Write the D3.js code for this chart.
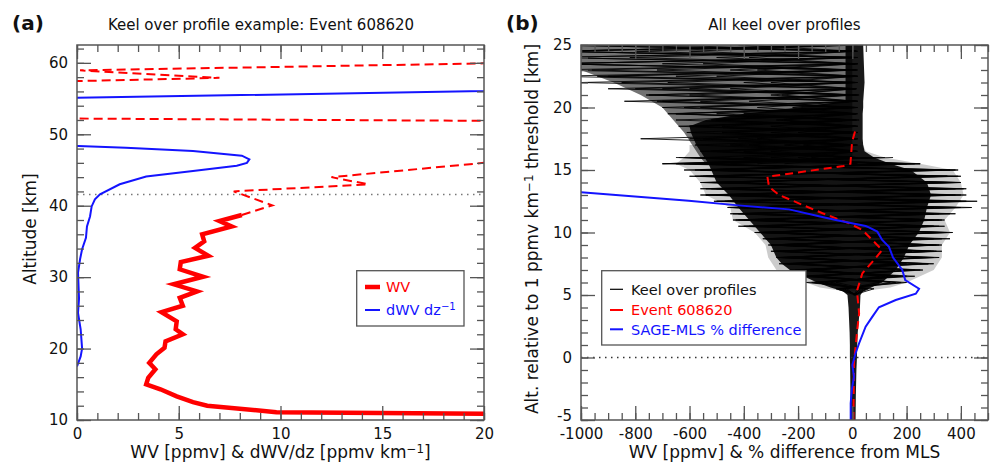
<!DOCTYPE html>
<html><head><meta charset="utf-8">
<script src="https://cdn.jsdelivr.net/npm/d3@7"></script>
<style>body{margin:0;background:#fff;} svg{display:block;font-family:"DejaVu Sans",sans-serif;}</style>
</head><body><svg id="c" width="992" height="465"></svg>
<script>
// ---------------- DATA ----------------
// Panel (a): Keel over profile example, Event 608620  [value, altitude km]
const aXTicks = [0, 5, 10, 15, 20];
const aYTicks = [10, 20, 30, 40, 50, 60];
const aThreshold = 41.57;
const wvSolid = [[21,10.85],[9.8,11.1],[6.4,12.0],[5.7,12.5],[4.9,13.3],[4.1,14.3],[3.4,15.0],[3.5,15.9],[3.85,17.1],[3.55,18.0],[3.9,19.2],[4.3,20.1],[4.35,21.0],[5.2,22.0],[4.85,22.7],[4.9,23.8],[4.15,25.1],[5.2,26.0],[5.05,27.1],[5.9,28.0],[4.75,29.0],[6.2,30.05],[5.05,31.1],[5.1,32.1],[6.45,33.0],[5.8,34.1],[6.25,35.0],[6.15,36.0],[7.6,37.1],[7.0,37.85],[8.1,38.7]];
const wvDashed = [[8.1,38.7],[9.6,40.05],[7.7,42.0],[14.3,43.0],[12.5,44.0],[23.75,47.0],[200,49],[0.1,52.2],[-50,53],[-20,57],[0.1,57.45],[7.0,57.9],[0.15,58.95],[60,61.9]];
const dwvdz = [[0.0,17.5],[0.18,18.9],[0.25,20.0],[0.18,22.7],[0.05,25.0],[0.1,27.0],[0.05,30.6],[0.15,32.5],[0.25,33.9],[0.44,35.5],[0.49,37.1],[0.64,38.5],[0.72,39.9],[0.88,40.9],[1.13,41.6],[2.1,43.0],[3.4,44.1],[5.7,44.85],[7.85,45.6],[8.35,46.0],[8.47,46.5],[8.1,47.0],[5.7,47.65],[2.4,48.1],[0.06,48.35],[-20,49],[-20,54.9],[0.0,55.1],[40,57]];

// Panel (b): All keel over profiles  [value, relative altitude km]
const bXTicks = [-1000, -800, -600, -400, -200, 0, 200, 400];
const bYTicks = [-5, 0, 5, 10, 15, 20, 25];
const eventRel = [[4,-5],[6,-0.46],[18,2.2],[25,3.54],[18,5.14],[18,5.4],[37,6.74],[80,7.8],[110,8.6],[37,10.2],[-12,10.74],[-110,11.54],[-270,13.0],[-307,13.66],[-313,14.46],[-32,15.32],[-7,15.5],[-1,17.24],[11,18.17]];
const sageMls = [[-6,-5],[-6,-3.66],[-2,-2.6],[6,-1.54],[0,-0.6],[12,0.34],[25,1.14],[49,2.46],[74,3.27],[98,4.02],[160,4.6],[234,5.1],[246,5.5],[195,6.2],[184,7.0],[150,8.0],[135,8.85],[110,9.4],[92,10.07],[61,10.41],[49,10.52],[-61,11.0],[-123,11.3],[-233,11.85],[-420,12.17],[-603,12.54],[-1000,13.22],[-1100,13.4]];
// dense core of the keel-over profiles: [alt, left edge, right edge]
const coreEnv = [[-5,-7,12],[-3,-7,13],[-1,-8,15],[0,-9,17],[1,-9,18],[2,-10,20],[3,-12,24],[4,-14,28],[5,-18,30],[5.3,-35,40],[5.6,-80,70],[6,-130,110],[6.5,-180,135],[7,-230,160],[7.5,-260,175],[8,-280,190],[9,-300,210],[10,-340,245],[11,-380,265],[12,-420,275],[13,-455,290],[14,-500,275],[15,-520,215],[15.5,-530,140],[16,-545,80],[16.5,-560,45],[17,-575,40],[17.5,-585,38],[18,-595,38],[18.5,-600,38],[19,-540,38],[19.5,-400,38],[20,-200,40],[20.5,-25,40],[22,-25,45],[25,-25,40]];
// fringe of zigzag spikes around the core: [alt, left edge, right edge]
const haloEnv = [[5.3,-30,40],[5.6,-120,140],[6,-170,200],[6.5,-210,250],[7,-280,300],[8,-310,330],[9,-320,330],[10,-360,360],[11,-440,340],[12,-450,380],[13,-540,410],[14,-560,400],[15,-600,370],[15.5,-650,250],[16,-620,120],[16.5,-600,50],[17,-600,40]];
// upper wedge of the keel-over profiles: [alt, left edge]
const upperWedge = [[15.5,-540],[16,-560],[17,-590],[18,-620],[19,-660],[20,-700],[21,-780],[22,-880],[23,-1000],[25,-1000]];
// individual profiles, middle section
const edgeAlts = [5,5.5,6,6.5,7,7.5,8,8.5,9,9.5,10,10.5,11,11.5,12,12.5,13,13.5,14,14.5,15,15.5,16];
const edgeProfiles = [
  [10,40,-120,180,-150,240,-220,290,-260,260,-300,320,-380,300,-420,350,-470,330,-520,300,-560,200,-600],
  [15,-50,160,-170,220,-240,280,-280,300,-300,350,-330,330,-400,380,-440,420,-500,400,-540,380,-600,150],
  [5,20,-80,120,-130,200,-200,260,-230,280,-260,300,-350,320,-380,460,-420,350,-450,300,-520,250,-580],
  [8,60,-150,200,-200,300,-240,330,-280,330,-340,260,-440,250,-450,280,-560,300,-480,280,-500,120,-640],
  [12,-30,100,-160,230,-270,250,-300,280,-310,370,-380,340,-420,400,-470,350,-520,380,-560,390,-700,80],
  [6,30,-100,150,-190,180,-260,220,-300,250,-320,280,-370,300,-400,330,-430,420,-500,350,-540,250,-600],
  [10,-20,140,-120,200,-200,260,-250,310,-280,300,-350,300,-390,340,-460,380,-480,400,-550,300,-580,100],
  [8,50,-60,100,-180,160,-230,200,-290,230,-330,240,-400,260,-440,280,-540,300,-500,350,-560,180,-620],
  [20,-40,180,-140,260,-230,300,-270,320,-320,340,-420,320,-440,300,-500,400,-560,360,-600,330,-650,120],
  [4,80,-170,230,-210,280,-280,310,-300,360,-360,300,-420,360,-460,420,-540,380,-560,400,-620,200,-560],
  [10,-60,200,-200,250,-250,320,-290,330,-330,320,-400,290,-450,440,-510,320,-540,350,-580,360,-620,60],
  [6,30,-140,170,-230,280,-270,300,-310,300,-350,340,-430,380,-440,400,-500,410,-550,390,-580,230,-650]
];
// individual profiles, upper section
const upperAlts = [15.5,16,16.5,17,17.5,18,18.5,19,19.5,20,20.5,21,21.5,22,22.5,23,23.5,24,24.5,25];
const upperProfiles = [
  [10,-540,15,-580,20,-610,10,-650,15,-700,20,-760,10,-850,15,-960,10,-1100,20,-1100],
  [-500,20,-560,10,-600,15,-640,25,-680,10,-720,15,-800,10,-900,20,-1100,15,-1100,10],
  [-350,15,-400,20,-420,10,-480,15,-500,20,-560,10,-600,15,-650,10,-700,20,-800,15],
  [15,-400,10,-450,20,-480,15,-520,10,-560,20,-600,15,-680,10,-720,20,-820,15,-900],
  [-250,10,-300,15,-350,20,-300,10,-400,15,-380,20,-450,10,-500,15,-550,10,-600,20],
  [20,-200,15,-250,10,-300,20,-280,15,-350,10,-300,15,-400,20,-450,10,-500,15,-700],
  [-700,15,-520,10,-780,20,-600,15,-650,10,-840,25,-700,15,-940,10,-1100,15,-1100,20],
  [10,-150,20,-180,15,-200,10,-250,20,-220,15,-260,10,-300,20,-350,15,-380,10,-420],
  [-450,10,-500,15,-550,20,-600,10,-650,15,-700,10,-900,20,-1100,15,-1100,10,-1100,15],
  [15,-300,10,-380,15,-450,20,-500,10,-620,15,-750,10,-1000,15,-1100,20,-1100,10,-1100]
];

// ---------------- DRAW ----------------
const svg = d3.select('#c');
const FONT = 'DejaVu Sans, sans-serif';
const RED = '#ff0000', BLUE = '#1414ff', AX = '#555';

function axes(g, x, y, xMaj, xMin, yMaj, yMin) {
  const [x0, x1] = x.range(), [y0, y1] = y.range();
  const MAJ = 14, MIN = 7;
  const parts = [
    g.append('g').attr('transform', `translate(0,${y0})`).call(d3.axisBottom(x).tickValues(xMaj).tickSize(-MAJ).tickPadding(8).tickFormat(d => String(d))),
    g.append('g').attr('transform', `translate(0,${y0})`).call(d3.axisBottom(x).tickValues(xMin).tickSize(-MIN).tickFormat('')),
    g.append('g').attr('transform', `translate(0,${y1})`).call(d3.axisTop(x).tickValues(xMaj).tickSize(-MAJ).tickFormat('')),
    g.append('g').attr('transform', `translate(0,${y1})`).call(d3.axisTop(x).tickValues(xMin).tickSize(-MIN).tickFormat('')),
    g.append('g').attr('transform', `translate(${x0},0)`).call(d3.axisLeft(y).tickValues(yMaj).tickSize(-MAJ).tickPadding(9).tickFormat(d => String(d))),
    g.append('g').attr('transform', `translate(${x0},0)`).call(d3.axisLeft(y).tickValues(yMin).tickSize(-MIN).tickFormat('')),
    g.append('g').attr('transform', `translate(${x1},0)`).call(d3.axisRight(y).tickValues(yMaj).tickSize(-MAJ).tickFormat('')),
    g.append('g').attr('transform', `translate(${x1},0)`).call(d3.axisRight(y).tickValues(yMin).tickSize(-MIN).tickFormat(''))
  ];
  parts.forEach(p => {
    p.select('.domain').remove();
    p.selectAll('line').attr('stroke', AX).attr('stroke-width', 1.3);
    p.selectAll('text').attr('font-size', 15).attr('font-family', FONT).attr('fill', '#111');
  });
  g.append('rect').attr('x', x0).attr('y', y1).attr('width', x1 - x0).attr('height', y0 - y1)
    .attr('fill', 'none').attr('stroke', AX).attr('stroke-width', 1.5);
  return parts;
}
function clip(id, x, y) {
  const [x0, x1] = x.range(), [y0, y1] = y.range();
  svg.append('clipPath').attr('id', id).append('rect').attr('x', x0).attr('y', y1).attr('width', x1 - x0).attr('height', y0 - y1);
}
function txt(g, s, x, y, opts = {}) {
  const t = g.append('text').attr('x', x).attr('y', y).attr('font-family', FONT)
    .attr('font-size', opts.size || 15).attr('fill', opts.fill || '#111')
    .attr('text-anchor', opts.anchor || 'start');
  if (opts.bold) t.attr('font-weight', 'bold');
  if (opts.rotate) t.attr('transform', `rotate(-90,${x},${y})`);
  return t;
}
function sup(t, main, s, after) {
  t.append('tspan').text(main);
  t.append('tspan').text(s).attr('font-size', '0.7em').attr('dy', '-0.45em');
  if (after) t.append('tspan').text(after).attr('dy', '0.315em');
}

// ===== Panel (a) =====
const xa = d3.scaleLinear().domain([0, 20]).range([77, 484]);
const ya = d3.scaleLinear().domain([10, 62.5]).range([420, 45]);
clip('clipA', xa, ya);
const ga = svg.append('g');
const pa = ga.append('g').attr('clip-path', 'url(#clipA)');
const lineA = d3.line().x(d => xa(d[0])).y(d => ya(d[1]));
pa.append('line').attr('x1', xa(0)).attr('x2', xa(20)).attr('y1', ya(aThreshold)).attr('y2', ya(aThreshold))
  .attr('stroke', '#777').attr('stroke-width', 1.5).attr('stroke-dasharray', '1.5,4.5');
pa.append('path').datum(dwvdz).attr('d', lineA).attr('fill', 'none').attr('stroke', BLUE).attr('stroke-width', 2);
pa.append('path').datum(wvDashed).attr('d', lineA).attr('fill', 'none').attr('stroke', RED).attr('stroke-width', 2).attr('stroke-dasharray', '9,5');
pa.append('path').datum(wvSolid).attr('d', lineA).attr('fill', 'none').attr('stroke', RED).attr('stroke-width', 4.5);
axes(ga, xa, ya, aXTicks, d3.range(0, 21, 1), aYTicks, d3.range(10, 63, 2));
// legend (a)
ga.append('rect').attr('x', 356.7).attr('y', 270.7).attr('width', 107.3).attr('height', 55.3).attr('fill', '#fff').attr('stroke', AX).attr('stroke-width', 1.3);
ga.append('line').attr('x1', 365).attr('x2', 380).attr('y1', 287).attr('y2', 287).attr('stroke', RED).attr('stroke-width', 4.5);
txt(ga, '', 386, 292, {fill: RED, size: 14.5}).text('WV');
ga.append('line').attr('x1', 365).attr('x2', 380).attr('y1', 310).attr('y2', 310).attr('stroke', BLUE).attr('stroke-width', 2);
sup(txt(ga, '', 386, 315, {fill: BLUE, size: 14.5}), 'dWV dz', '\u22121');
// titles & labels (a)
txt(ga, '', 12, 30, {size: 20, bold: true}).text('(a)');
txt(ga, '', 261, 30, {anchor: 'middle'}).text('Keel over profile example: Event 608620');
sup(txt(ga, '', 280.5, 458, {anchor: 'middle', size: 17}), 'WV [ppmv] & dWV/dz [ppmv km', '\u22121', ']');
txt(ga, '', 36, 229, {anchor: 'middle', rotate: true, size: 17}).text('Altitude [km]');

// ===== Panel (b) =====
const xb = d3.scaleLinear().domain([-1000, 500]).range([581, 988]);
const yb = d3.scaleLinear().domain([-5, 25]).range([420, 45]);
clip('clipB', xb, yb);
const gb = svg.append('g');
const pb = gb.append('g').attr('clip-path', 'url(#clipB)');
const lineB = d3.line().x(d => xb(d[0])).y(d => yb(d[1]));
// upper translucent wedge
pb.append('path').datum(upperWedge)
  .attr('d', d3.area().y(d => yb(d[0])).x0(d => xb(d[1])).x1(() => xb(0)))
  .attr('fill', '#000').attr('fill-opacity', 0.55);
// zigzag fringe
pb.append('path').datum(haloEnv)
  .attr('d', d3.area().y(d => yb(d[0])).x0(d => xb(d[1])).x1(d => xb(d[2])))
  .attr('fill', '#000').attr('fill-opacity', 0.2);
// dense core
pb.append('path').datum(coreEnv)
  .attr('d', d3.area().y(d => yb(d[0])).x0(d => xb(d[1])).x1(d => xb(d[2])))
  .attr('fill', '#000').attr('fill-opacity', 0.9);
edgeProfiles.forEach(p => {
  pb.append('path').datum(p.map((v, i) => [v, edgeAlts[i]])).attr('d', lineB)
    .attr('fill', 'none').attr('stroke', '#000').attr('stroke-width', 1).attr('stroke-opacity', 0.85);
});
upperProfiles.forEach(p => {
  pb.append('path').datum(p.map((v, i) => [v, upperAlts[i]])).attr('d', lineB)
    .attr('fill', 'none').attr('stroke', '#000').attr('stroke-width', 1).attr('stroke-opacity', 0.85);
});
pb.append('line').attr('x1', xb(-1000)).attr('x2', xb(500)).attr('y1', yb(0)).attr('y2', yb(0))
  .attr('stroke', '#333').attr('stroke-width', 1.5).attr('stroke-dasharray', '1.5,4.5');
pb.append('path').datum(eventRel).attr('d', lineB).attr('fill', 'none').attr('stroke', RED).attr('stroke-width', 2).attr('stroke-dasharray', '8,5');
pb.append('path').datum(sageMls).attr('d', lineB).attr('fill', 'none').attr('stroke', BLUE).attr('stroke-width', 2);
const axB = axes(gb, xb, yb, bXTicks, d3.range(-1000, 501, 50), bYTicks, d3.range(-5, 26, 1));
axB[4].selectAll('text').filter(d => d === -5).attr('dy', '0.05em');
// legend (b)
gb.append('rect').attr('x', 601.7).attr('y', 270.7).attr('width', 204.3).attr('height', 74.3).attr('fill', '#fff').attr('stroke', AX).attr('stroke-width', 1.3);
gb.append('line').attr('x1', 610).attr('x2', 623).attr('y1', 289.3).attr('y2', 289.3).attr('stroke', '#000').attr('stroke-width', 1.2);
txt(gb, '', 631, 294.5, {size: 14.5}).text('Keel over profiles');
gb.append('line').attr('x1', 610).attr('x2', 623).attr('y1', 310).attr('y2', 310).attr('stroke', RED).attr('stroke-width', 2);
txt(gb, '', 631, 315, {size: 14.5, fill: RED}).text('Event 608620');
gb.append('line').attr('x1', 610).attr('x2', 623).attr('y1', 329.3).attr('y2', 329.3).attr('stroke', BLUE).attr('stroke-width', 2);
txt(gb, '', 631, 334.5, {size: 14.5, fill: BLUE}).text('SAGE-MLS % difference');
// titles & labels (b)
txt(gb, '', 506, 30, {size: 20, bold: true}).text('(b)');
txt(gb, '', 784.5, 30, {anchor: 'middle'}).text('All keel over profiles');
txt(gb, '', 784.5, 458, {anchor: 'middle', size: 17}).text('WV [ppmv] & % difference from MLS');
sup(txt(gb, '', 538, 229, {anchor: 'middle', rotate: true, size: 17}), 'Alt. relative to 1 ppmv km', '\u22121', ' threshold [km]');
</script></body></html>
